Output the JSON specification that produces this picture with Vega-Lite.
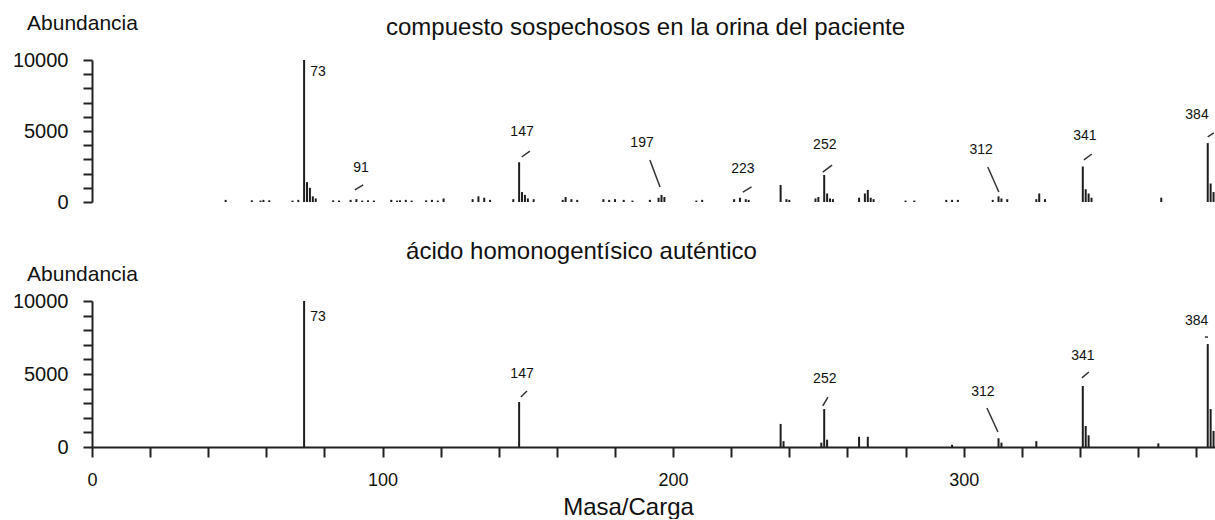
{
  "$schema": "https://vega.github.io/schema/vega-lite/v6.json",
  "padding": {"left": 12, "top": 12, "right": 0, "bottom": 0},
  "config": {
    "font": "Liberation Sans",
    "view": {"stroke": null},
    "concat": {"spacing": 28}
  },
  "datasets": {
    "muestra": [
      {"mz": 46, "ab": 150}, {"mz": 55, "ab": 120}, {"mz": 58, "ab": 100}, {"mz": 59, "ab": 150}, {"mz": 61, "ab": 120},
      {"mz": 69, "ab": 100}, {"mz": 71, "ab": 150}, {"mz": 73, "ab": 10000}, {"mz": 74, "ab": 1400}, {"mz": 75, "ab": 1000},
      {"mz": 76, "ab": 400}, {"mz": 77, "ab": 250}, {"mz": 83, "ab": 120}, {"mz": 85, "ab": 100}, {"mz": 89, "ab": 150},
      {"mz": 91, "ab": 200}, {"mz": 93, "ab": 100}, {"mz": 95, "ab": 120}, {"mz": 97, "ab": 100}, {"mz": 103, "ab": 150},
      {"mz": 105, "ab": 100}, {"mz": 106, "ab": 120}, {"mz": 108, "ab": 150}, {"mz": 110, "ab": 100}, {"mz": 115, "ab": 120},
      {"mz": 117, "ab": 150}, {"mz": 119, "ab": 100}, {"mz": 121, "ab": 250}, {"mz": 131, "ab": 200}, {"mz": 133, "ab": 400},
      {"mz": 135, "ab": 300}, {"mz": 137, "ab": 150}, {"mz": 145, "ab": 200}, {"mz": 147, "ab": 2800}, {"mz": 148, "ab": 700},
      {"mz": 149, "ab": 500}, {"mz": 150, "ab": 250}, {"mz": 152, "ab": 200}, {"mz": 162, "ab": 150}, {"mz": 163, "ab": 350},
      {"mz": 165, "ab": 200}, {"mz": 167, "ab": 150}, {"mz": 176, "ab": 200}, {"mz": 178, "ab": 150}, {"mz": 180, "ab": 200},
      {"mz": 183, "ab": 150}, {"mz": 186, "ab": 100}, {"mz": 192, "ab": 150}, {"mz": 195, "ab": 300}, {"mz": 196, "ab": 500},
      {"mz": 197, "ab": 350}, {"mz": 208, "ab": 100}, {"mz": 210, "ab": 150}, {"mz": 221, "ab": 200}, {"mz": 223, "ab": 300},
      {"mz": 225, "ab": 200}, {"mz": 226, "ab": 150}, {"mz": 237, "ab": 1200}, {"mz": 239, "ab": 200}, {"mz": 240, "ab": 150},
      {"mz": 249, "ab": 250}, {"mz": 250, "ab": 350}, {"mz": 252, "ab": 1900}, {"mz": 253, "ab": 600}, {"mz": 254, "ab": 250},
      {"mz": 255, "ab": 200}, {"mz": 264, "ab": 300}, {"mz": 266, "ab": 600}, {"mz": 267, "ab": 850}, {"mz": 268, "ab": 300},
      {"mz": 269, "ab": 200}, {"mz": 280, "ab": 100}, {"mz": 283, "ab": 100}, {"mz": 294, "ab": 150}, {"mz": 296, "ab": 150},
      {"mz": 298, "ab": 150}, {"mz": 310, "ab": 150}, {"mz": 312, "ab": 400}, {"mz": 313, "ab": 250}, {"mz": 315, "ab": 200},
      {"mz": 325, "ab": 200}, {"mz": 326, "ab": 600}, {"mz": 328, "ab": 200}, {"mz": 341, "ab": 2500}, {"mz": 342, "ab": 900},
      {"mz": 343, "ab": 600}, {"mz": 344, "ab": 300}, {"mz": 368, "ab": 300}, {"mz": 384, "ab": 4150}, {"mz": 385, "ab": 1300},
      {"mz": 386, "ab": 700}
    ],
    "patron": [
      {"mz": 73, "ab": 10000}, {"mz": 147, "ab": 3080}, {"mz": 237, "ab": 1580}, {"mz": 238, "ab": 400}, {"mz": 251, "ab": 300},
      {"mz": 252, "ab": 2600}, {"mz": 253, "ab": 500}, {"mz": 264, "ab": 700}, {"mz": 267, "ab": 700}, {"mz": 296, "ab": 150},
      {"mz": 312, "ab": 600}, {"mz": 313, "ab": 300}, {"mz": 325, "ab": 400}, {"mz": 341, "ab": 4180}, {"mz": 342, "ab": 1440},
      {"mz": 343, "ab": 800}, {"mz": 367, "ab": 250}, {"mz": 384, "ab": 7050}, {"mz": 385, "ab": 2600}, {"mz": 386, "ab": 1100}
    ],
    "etiquetas": [
      {"panel": "top", "label": "73", "mz": 77.8, "ab": 9150},
      {"panel": "top", "label": "91", "mz": 92.6, "ab": 2400},
      {"panel": "top", "label": "147", "mz": 148, "ab": 4930},
      {"panel": "top", "label": "197", "mz": 189.3, "ab": 4150},
      {"panel": "top", "label": "223", "mz": 224, "ab": 2320},
      {"panel": "top", "label": "252", "mz": 252.2, "ab": 4010},
      {"panel": "top", "label": "312", "mz": 306, "ab": 3660},
      {"panel": "top", "label": "341", "mz": 341.7, "ab": 4650},
      {"panel": "top", "label": "384", "mz": 380.3, "ab": 6130},
      {"panel": "bottom", "label": "73", "mz": 77.8, "ab": 8900},
      {"panel": "bottom", "label": "147", "mz": 148, "ab": 5000},
      {"panel": "bottom", "label": "252", "mz": 252.2, "ab": 4660},
      {"panel": "bottom", "label": "312", "mz": 306.6, "ab": 3770},
      {"panel": "bottom", "label": "341", "mz": 341, "ab": 6230},
      {"panel": "bottom", "label": "384", "mz": 380.2, "ab": 8630}
    ],
    "guias": [
      {"panel": "top", "mz": 90.5, "ab": 850, "mz2": 93.3, "ab2": 1200},
      {"panel": "top", "mz": 147.9, "ab": 3170, "mz2": 150.7, "ab2": 3590},
      {"panel": "top", "mz": 192, "ab": 2960, "mz2": 195.5, "ab2": 1060},
      {"panel": "top", "mz": 224, "ab": 700, "mz2": 227, "ab2": 1060},
      {"panel": "top", "mz": 251.5, "ab": 2110, "mz2": 254.7, "ab2": 2600},
      {"panel": "top", "mz": 308.3, "ab": 2460, "mz2": 312.1, "ab2": 700},
      {"panel": "top", "mz": 341.4, "ab": 2960, "mz2": 344.1, "ab2": 3380},
      {"panel": "top", "mz": 384, "ab": 4580, "mz2": 386.1, "ab2": 4860},
      {"panel": "bottom", "mz": 147.6, "ab": 3420, "mz2": 149.7, "ab2": 3840},
      {"panel": "bottom", "mz": 251.5, "ab": 2810, "mz2": 253.3, "ab2": 3420},
      {"panel": "bottom", "mz": 308, "ab": 2670, "mz2": 311.8, "ab2": 1030},
      {"panel": "bottom", "mz": 340.7, "ab": 4730, "mz2": 343.1, "ab2": 5140},
      {"panel": "bottom", "mz": 383, "ab": 7530, "mz2": 384.1, "ab2": 7530}
    ]
  },
  "vconcat": [
    {
      "width": 1123,
      "height": 142,
      "title": {"text": "compuesto sospechosos en la orina del paciente", "fontSize": 24, "fontWeight": "normal", "color": "#111", "anchor": "middle", "frame": "group", "baseline": "middle", "offset": -15, "dx": -8, "dy": 25},
      "encoding": {
        "x": {"field": "mz", "type": "quantitative", "scale": {"domain": [0, 386.5], "nice": false, "zero": false}, "axis": null},
        "y": {"field": "ab", "type": "quantitative", "scale": {"domain": [0, 10000], "nice": false},
          "axis": {"values": [0, 1000, 2000, 3000, 4000, 5000, 6000, 7000, 8000, 9000, 10000], "format": "d",
            "labelExpr": "datum.value % 5000 == 0 ? datum.label : ''", "labelFlush": false, "labelOverlap": false, "labelBound": false,
            "tickSize": 9, "tickWidth": 2, "tickColor": "#222", "domainWidth": 2, "domainColor": "#222",
            "labelFontSize": 20, "labelColor": "#111", "labelPadding": 15, "grid": false,
            "title": "Abundancia", "titleAngle": 0, "titleFontSize": 21, "titleFontWeight": "normal", "titleColor": "#111",
            "titleX": -10, "titleY": -37, "titleAlign": "center", "titleBaseline": "middle"}}
      },
      "layer": [
        {
          "data": {"name": "muestra"},
          "mark": {"type": "rule", "color": "#1e1e1e", "strokeWidth": 2},
          "encoding": {"y2": {"datum": 0}}
        },
        {
          "data": {"name": "guias"},
          "transform": [{"filter": "datum.panel == 'top'"}],
          "mark": {"type": "rule", "color": "#333", "strokeWidth": 1.5},
          "encoding": {"x2": {"field": "mz2"}, "y2": {"field": "ab2"}}
        },
        {
          "data": {"name": "etiquetas"},
          "transform": [{"filter": "datum.panel == 'top'"}],
          "mark": {"type": "text", "fontSize": 14, "color": "#111", "align": "center", "baseline": "middle"},
          "encoding": {"text": {"field": "label"}}
        }
      ]
    },
    {
      "width": 1123,
      "height": 146,
      "title": {"text": "ácido homonogentísico auténtico", "fontSize": 24, "fontWeight": "normal", "color": "#111", "anchor": "middle", "frame": "group", "baseline": "middle", "offset": 2, "dx": -72, "dy": 15},
      "encoding": {
        "x": {"field": "mz", "type": "quantitative", "scale": {"domain": [0, 386.5], "nice": false, "zero": false},
          "axis": {"values": [0, 20, 40, 60, 80, 100, 120, 140, 160, 180, 200, 220, 240, 260, 280, 300, 320, 340, 360, 380],
            "labelExpr": "datum.value % 100 == 0 ? datum.label : ''", "labelFlush": false, "labelOverlap": false, "labelBound": false,
            "tickSize": 10, "tickWidth": 2, "tickColor": "#222", "domainWidth": 2, "domainColor": "#222",
            "labelFontSize": 18, "labelColor": "#111", "labelPadding": 14, "grid": false,
            "title": "Masa/Carga", "titleFontSize": 24, "titleFontWeight": "normal", "titleColor": "#111",
            "titleX": 536, "titlePadding": 6}},
        "y": {"field": "ab", "type": "quantitative", "scale": {"domain": [0, 10000], "nice": false},
          "axis": {"values": [0, 1000, 2000, 3000, 4000, 5000, 6000, 7000, 8000, 9000, 10000], "format": "d",
            "labelExpr": "datum.value % 5000 == 0 ? datum.label : ''", "labelFlush": false, "labelOverlap": false, "labelBound": false,
            "tickSize": 9, "tickWidth": 2, "tickColor": "#222", "domainWidth": 2, "domainColor": "#222",
            "labelFontSize": 20, "labelColor": "#111", "labelPadding": 15, "grid": false,
            "title": "Abundancia", "titleAngle": 0, "titleFontSize": 21, "titleFontWeight": "normal", "titleColor": "#111",
            "titleX": -10, "titleY": -27, "titleAlign": "center", "titleBaseline": "middle"}}
      },
      "layer": [
        {
          "data": {"name": "patron"},
          "mark": {"type": "rule", "color": "#1e1e1e", "strokeWidth": 2},
          "encoding": {"y2": {"datum": 0}}
        },
        {
          "data": {"name": "guias"},
          "transform": [{"filter": "datum.panel == 'bottom'"}],
          "mark": {"type": "rule", "color": "#333", "strokeWidth": 1.5},
          "encoding": {"x2": {"field": "mz2"}, "y2": {"field": "ab2"}}
        },
        {
          "data": {"name": "etiquetas"},
          "transform": [{"filter": "datum.panel == 'bottom'"}],
          "mark": {"type": "text", "fontSize": 14, "color": "#111", "align": "center", "baseline": "middle"},
          "encoding": {"text": {"field": "label"}}
        }
      ]
    }
  ]
}
